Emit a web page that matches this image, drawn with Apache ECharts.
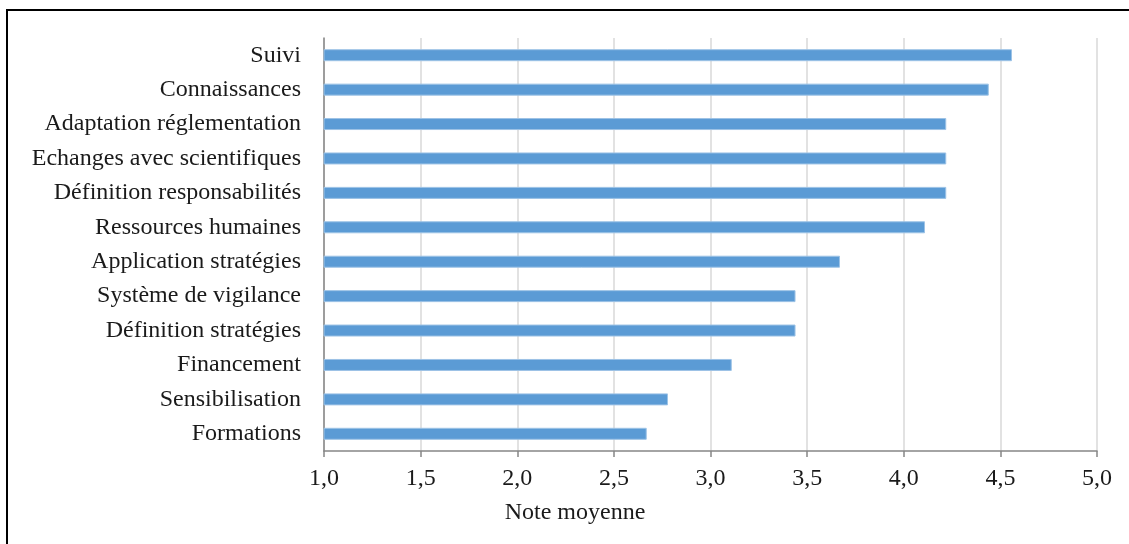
<!DOCTYPE html>
<html>
<head>
<meta charset="utf-8">
<script src="https://cdn.jsdelivr.net/npm/echarts@6/dist/echarts.min.js"></script>
<style>html,body{margin:0;padding:0;background:#fff;}#c{width:1129px;height:544px;}</style>
</head>
<body>
<div id="c"></div>
<script>
const categories = ["Formations","Sensibilisation","Financement","Définition stratégies","Système de vigilance","Application stratégies","Ressources humaines","Définition responsabilités","Echanges avec scientifiques","Adaptation réglementation","Connaissances","Suivi"];
const values = [2.67,2.78,3.11,3.44,3.44,3.67,4.11,4.22,4.22,4.22,4.44,4.56];
const axisName = "Note moyenne";

const chart = echarts.init(document.getElementById('c'));
const font = '"Liberation Serif", "DejaVu Serif", serif';
chart.setOption({
  animation: false,
  textStyle: {fontFamily: font},
  graphic: [
    {type:'rect', shape:{x:7, y:10, width:1200, height:600}, style:{fill:'none', stroke:'#000', lineWidth:2}, z:100},
    {type:'text', x: 575, y: 513, style:{text: axisName, font: '24px ' + font, fill:'#1a1a1a', textAlign:'center', textVerticalAlign:'middle'}}
  ],
  grid: {left: 324, right: 32, top: 38, bottom: 93},
  xAxis: {
    type: 'value', min: 1, max: 5, interval: 0.5,
    axisLine: {show: true, lineStyle: {color: '#868686', width: 1.5}},
    axisTick: {show: true, length: 6, lineStyle: {color: '#868686', width: 1.5}},
    axisLabel: {color: '#1a1a1a', fontSize: 24, fontFamily: font, margin: 16,
      formatter: v => v.toFixed(1).replace('.', ',')},
    splitLine: {show: true, lineStyle: {color: '#d9d9d9', width: 1.5}}
  },
  yAxis: {
    type: 'category', data: categories,
    axisLine: {show: true, lineStyle: {color: '#868686', width: 1.5}},
    axisTick: {show: false},
    axisLabel: {color: '#1a1a1a', fontSize: 24, fontFamily: font, margin: 23}
  },
  series: [{
    type: 'bar', data: values, barWidth: 12,
    itemStyle: {color: '#5b9bd5', borderColor: '#9dc3e6', borderWidth: 1}
  }]
});
</script>
</body>
</html>
